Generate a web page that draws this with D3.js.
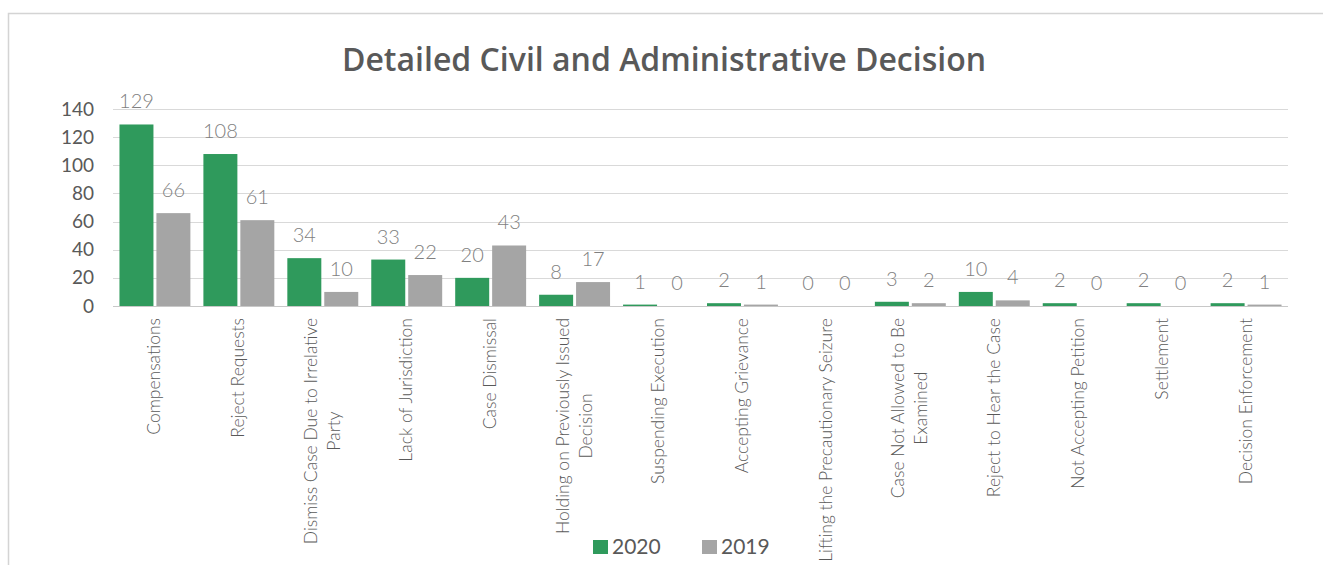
<!DOCTYPE html>
<html>
<head>
<meta charset="utf-8">
<script src="https://cdnjs.cloudflare.com/ajax/libs/d3/7.8.5/d3.min.js"></script>
<style>
  body { margin: 0; background: #fff; }
  text { font-family: Lato, "Open Sans", sans-serif; }
</style>
</head>
<body>
<svg width="1323" height="565"></svg>
<script>
var categories = [
  "Compensations", "Reject Requests", "Dismiss Case Due to Irrelative|Party",
  "Lack of Jurisdiction", "Case Dismissal", "Holding on Previously Issued|Decision",
  "Suspending Execution", "Accepting Grievance", "Lifting the Precautionary Seizure",
  "Case Not Allowed to Be|Examined", "Reject to Hear the Case", "Not Accepting Petition",
  "Settlement", "Decision Enforcement"
];
var values2020 = [129, 108, 34, 33, 20, 8, 1, 2, 0, 3, 10, 2, 2, 2];
var values2019 = [66, 61, 10, 22, 43, 17, 0, 1, 0, 2, 4, 0, 0, 1];
var seriesNames = ["2020", "2019"];
var yTicks = [0, 20, 40, 60, 80, 100, 120, 140];

var chart = (function(self){
  var colors = { "2020": "#2f9a5c", "2019": "#a5a5a5" };

  self.init = function(){
    var svg = d3.select("svg");

    // frame
    svg.append("path")
        .attr("d", "M8.5,565V13.5H1323")
        .attr("fill", "none")
        .attr("stroke", "#d4d4d4")
        .attr("stroke-width", 1.5);

    svg.append("text")
        .attr("x", 664)
        .attr("y", 71)
        .attr("text-anchor", "middle")
        .style("font-family", "'Open Sans', sans-serif")
        .style("font-weight", 600)
        .style("font-size", "32px")
        .attr("fill", "#595959")
        .text("Detailed Civil and Administrative Decision");

    var x0 = d3.scaleBand()
        .domain(categories)
        .range([113, 1288])
        .paddingInner(0.155)
        .paddingOuter(0.077);

    var x1 = d3.scaleBand()
        .domain(seriesNames)
        .range([0, x0.bandwidth()])
        .paddingInner(0.08);

    var y = d3.scaleLinear()
        .domain([0, 140])
        .range([306, 109]);

    // gridlines
    svg.append("g")
        .selectAll("line")
        .data(yTicks)
      .enter().append("line")
        .attr("x1", 113)
        .attr("x2", 1288)
        .attr("y1", function(d) { return Math.round(y(d)) + 0.5; })
        .attr("y2", function(d) { return Math.round(y(d)) + 0.5; })
        .attr("stroke", function(d) { return d === 0 ? "#c8c8c8" : "#d9d9d9"; })
        .attr("stroke-width", 1.2);

    var yAxis = svg.append("g")
        .attr("transform", "translate(94,0)")
        .call(d3.axisLeft(y).tickValues(yTicks).tickSize(0).tickPadding(0));
    yAxis.select(".domain").remove();
    yAxis.selectAll("text")
        .style("font-family", "Lato, sans-serif")
        .style("font-size", "19px")
        .attr("fill", "#595959");

    var rows = categories.map(function(c, i) {
      return { cat: c, vals: [
        { key: "2020", value: values2020[i] },
        { key: "2019", value: values2019[i] }
      ]};
    });

    var group = svg.append("g").selectAll(".group")
        .data(rows)
      .enter().append("g")
        .attr("class", "group")
        .attr("transform", function(d) { return "translate(" + x0(d.cat) + ",0)"; });

    group.selectAll("rect")
        .data(function(d) { return d.vals; })
      .enter().append("rect")
        .attr("x", function(d) { return x1(d.key); })
        .attr("width", x1.bandwidth())
        .attr("y", function(d) { return y(d.value); })
        .attr("height", function(d) { return y(0) - y(d.value); })
        .attr("fill", function(d) { return colors[d.key]; });

    group.selectAll(".lbl")
        .data(function(d) { return d.vals; })
      .enter().append("text")
        .attr("class", "lbl")
        .attr("x", function(d) { return x1(d.key) + x1.bandwidth() / 2; })
        .attr("y", function(d) { return y(d.value) - 16; })
        .attr("text-anchor", "middle")
        .style("font-size", "20px")
        .style("font-weight", 300)
        .attr("fill", "#7f7f7f")
        .text(function(d) { return d.value; });

    // rotated category labels, wrapped at "|"
    var lineGap = 23;
    var xl = svg.append("g").selectAll(".xl")
        .data(categories)
      .enter().append("text")
        .attr("class", "xl")
        .attr("transform", function(d) {
          var n = d.split("|").length;
          var cx = x0(d) + x0.bandwidth() / 2 + 5.5 - (n - 1) * lineGap / 2;
          return "translate(" + cx + ",318) rotate(-90)";
        })
        .style("font-size", "17.5px")
        .style("font-weight", 300)
        .attr("fill", "#595959");

    xl.each(function(d) {
      var t = d3.select(this);
      d.split("|").forEach(function(p, i) {
        t.append("tspan")
            .attr("dy", i === 0 ? 0 : lineGap)
            .attr("text-anchor", "middle")
            .text(p);
      });
      // every line centred on the first one, which ends at the axis
      var spans = t.selectAll("tspan").nodes();
      var w0 = spans[0].getComputedTextLength();
      spans.forEach(function(s) { d3.select(s).attr("x", -w0 / 2); });
    });

    // legend
    var legend = svg.append("g").selectAll(".leg")
        .data(seriesNames)
      .enter().append("g")
        .attr("class", "leg")
        .attr("transform", function(d, i) { return "translate(" + (593 + i * 109) + ",540)"; });

    legend.append("rect")
        .attr("width", 15)
        .attr("height", 14)
        .attr("fill", function(d) { return colors[d]; });

    legend.append("text")
        .attr("x", 19)
        .attr("y", 13.5)
        .style("font-size", "21px")
        .attr("fill", "#595959")
        .text(function(d) { return d; });
  };
  return self;
})({});

chart.init();
</script>
</body>
</html>
